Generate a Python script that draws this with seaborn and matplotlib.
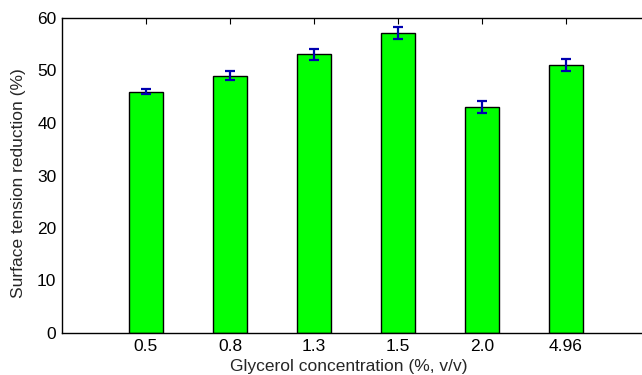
import matplotlib
matplotlib.use("Agg")
import matplotlib.pyplot as plt
import numpy as np
import pandas as pd
import seaborn as sns

# Data
concentrations = ["0.5", "0.8", "1.3", "1.5", "2.0", "4.96"]
reduction = [46.0, 49.0, 53.1, 57.1, 43.0, 51.0]
errors = [0.45, 0.85, 1.05, 1.15, 1.15, 1.1]

df = pd.DataFrame({"conc": concentrations, "red": reduction})

sns.set_style("white")
plt.rcParams["font.family"] = ["Liberation Sans", "DejaVu Sans"]
plt.rcParams["font.size"] = 12.5

fig = plt.figure(figsize=(6.42, 3.75), dpi=100)
# right edge of the axes lies just beyond the picture, as in the reference
ax = fig.add_axes([62 / 642, 42 / 375, (650 - 62) / 642, 315 / 375])

sns.barplot(data=df, x="conc", y="red", color="#00ff00", saturation=1,
            width=0.4, edgecolor="black", linewidth=1.0, errorbar=None, ax=ax)
ax.errorbar(np.arange(len(reduction)), reduction, yerr=errors, fmt="none",
            ecolor="#0000b0", elinewidth=1.6, capsize=3.5, capthick=1.6, zorder=5)

ax.set_xlim(-1, 6)
ax.set_ylim(0, 60)
ax.set_yticks(range(0, 61, 10))
ax.set_xlabel("Glycerol concentration (%, v/v)")
ax.set_ylabel("Surface tension reduction (%)")
ax.xaxis.set_label_coords(0.487, -0.081)
ax.yaxis.set_label_coords(-0.061, 0.475)

for s in ax.spines.values():
    s.set_visible(True)
    s.set_color("black")
    s.set_linewidth(1.0)
ax.tick_params(direction="in", top=True, right=True, length=4, width=0.8,
               pad=4, colors="black", labelsize=12.5)

fig.savefig("out.png", dpi=100)
